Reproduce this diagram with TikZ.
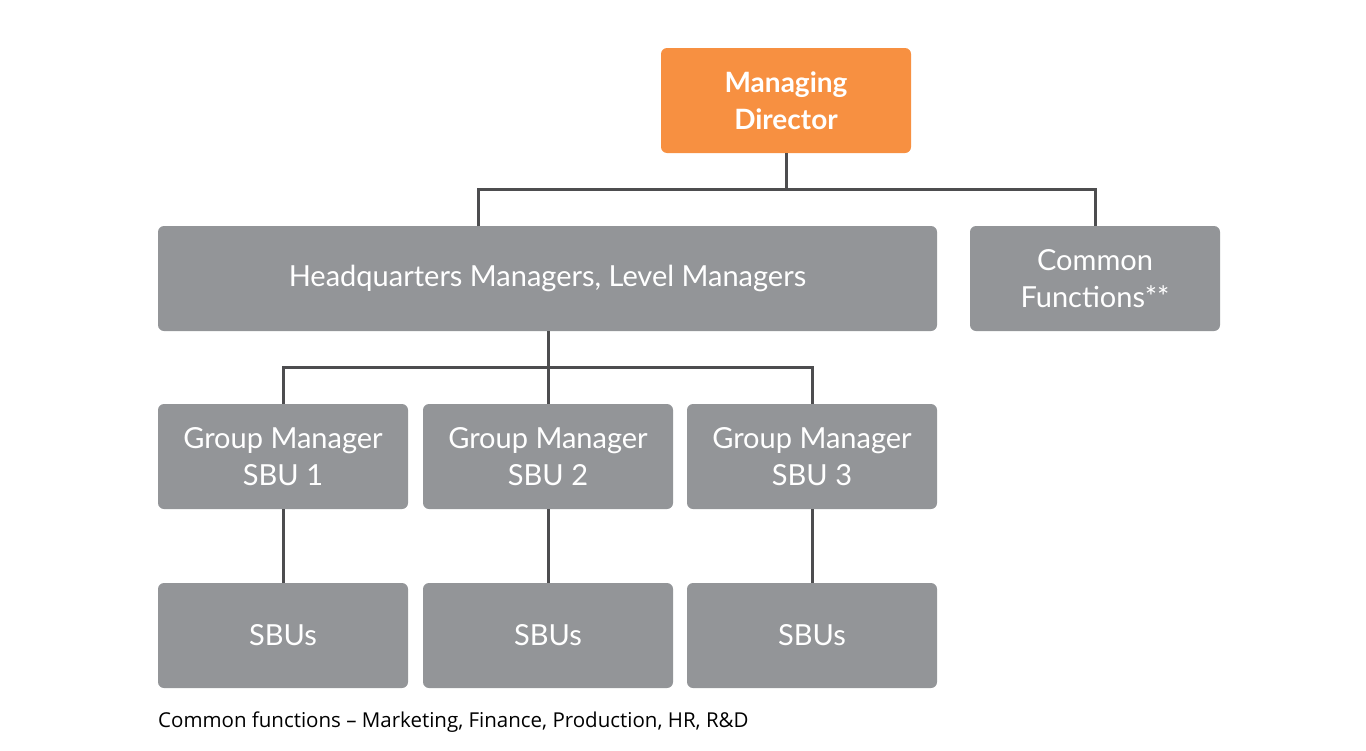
\documentclass[tikz,border=0pt]{standalone}
\usepackage{fontspec}
\setmainfont{Lato}
\newfontfamily\footfont{Open Sans}
\definecolor{boxgray}{HTML}{939598}
\definecolor{mdorange}{HTML}{F79041}
\definecolor{linegray}{HTML}{4D4D4F}
\begin{document}
\begin{tikzpicture}[x=1pt,y=-1pt,
  graybox/.style={fill=boxgray, rounded corners=6pt, text=white, align=center, font=\fontsize{29}{37}\selectfont, inner sep=0pt},
  orangebox/.style={fill=mdorange, rounded corners=6pt, text=white, align=center, font=\fontsize{28}{37}\selectfont\bfseries, inner sep=0pt},
  conn/.style={draw=linegray, line width=3pt}]
\useasboundingbox (0,0) rectangle (1366,750);
\node[orangebox, minimum width=250pt, minimum height=105pt] (md) at (786,100.5) {Managing\\Director};
\node[graybox, minimum width=779pt, minimum height=105pt] (hq) at (547.5,278.5) {Headquarters Managers, Level Managers};
\node[graybox, minimum width=250pt, minimum height=105pt] (cf) at (1095,278.5) {Common\\Functions**};
\node[graybox, minimum width=250pt, minimum height=105pt] (g1) at (283,456.5) {Group Manager\\SBU 1};
\node[graybox, minimum width=250pt, minimum height=105pt] (g2) at (548,456.5) {Group Manager\\SBU 2};
\node[graybox, minimum width=250pt, minimum height=105pt] (g3) at (812,456.5) {Group Manager\\SBU 3};
\node[graybox, minimum width=250pt, minimum height=105pt] (s1) at (283,635.5) {SBUs};
\node[graybox, minimum width=250pt, minimum height=105pt] (s2) at (548,635.5) {SBUs};
\node[graybox, minimum width=250pt, minimum height=105pt] (s3) at (812,635.5) {SBUs};
\node[anchor=west, inner sep=0pt, font=\footfont\fontsize{20.5}{22}\selectfont] (fn) at (158,722) {Common functions – Marketing, Finance, Production, HR, R\&D};
\coordinate (j1) at (786,189);
\coordinate (j2) at (548,367);
\draw[conn] (md.south) -- (j1);
\draw[conn] (478,226) |- (j1) -| (cf.north);
\draw[conn] (hq.south -| j2) -- (j2);
\draw[conn] (g1.north) |- (j2) -| (g3.north);
\draw[conn] (j2) -- (g2.north);
\draw[conn] (g1.south) -- (s1.north);
\draw[conn] (g2.south) -- (s2.north);
\draw[conn] (g3.south) -- (s3.north);
\end{tikzpicture}
\end{document}
